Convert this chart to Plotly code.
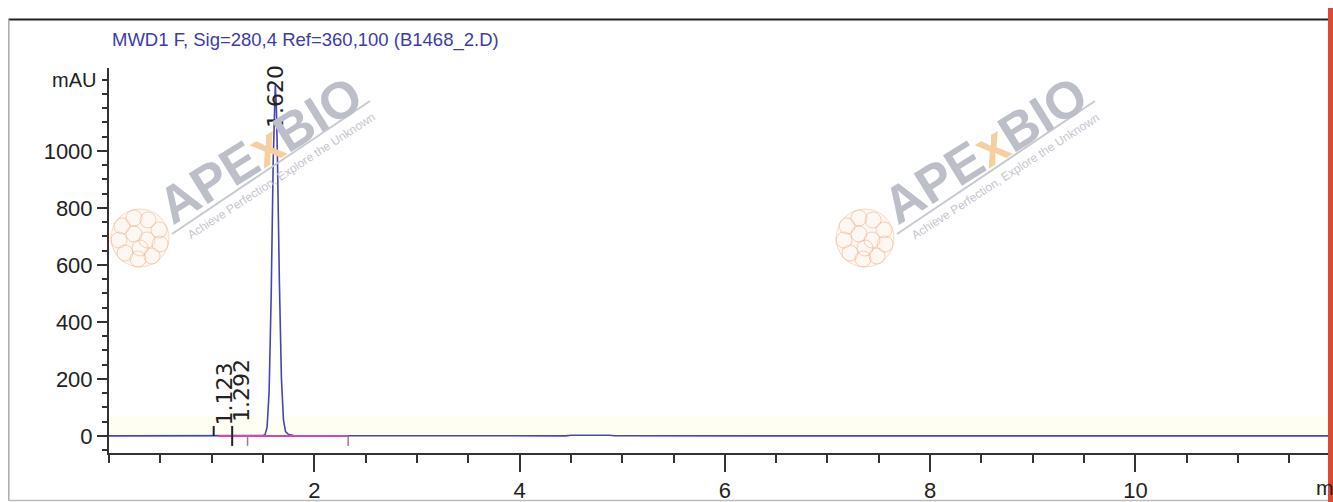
import plotly.graph_objects as go

# ---------------- data ----------------
time_min = [0.0, 1.00, 1.10, 1.30, 1.44, 1.48, 1.50, 1.52, 1.54, 1.56, 1.58, 1.60,
            1.61, 1.62, 1.63, 1.64, 1.66, 1.68, 1.70, 1.72, 1.75, 1.80, 1.90, 2.30,
            4.45, 4.50, 4.60, 4.70, 4.80, 4.88, 4.92, 5.68, 5.71, 5.74, 11.95]
signal_mau = [0.0, 0.0, 0.3, 0.5, 0.6, 0.8, 1.2, 4, 30, 155, 490, 970,
              1165, 1230, 1160, 1000, 540, 200, 55, 15, 5, 1.5, 0.5, 0.2,
              0.2, 2.5, 3, 3, 3, 2.5, 0.3, 0.3, 2, 0.3, 0.0]

peak_times = [1.123, 1.292, 1.620]
peak_labels = ["1.123", "1.292", "1.620"]
peak_label_y = [146, 160, 1190]

baseline_x = [1.07, 2.33]
baseline_y = [0, 0]

mark_dark_x = [1.02, 1.20]
mark_dark_lo = [0, -35]
mark_dark_hi = [35, 35]
mark_grey_x = [1.35, 2.33]
mark_grey_lo = [-35, -35]
mark_grey_hi = [0, 0]

x_tickvals = [2, 4, 6, 8, 10]
y_tickvals = [0, 200, 400, 600, 800, 1000]

title_text = "MWD1 F, Sig=280,4 Ref=360,100 (B1468_2.D)"
y_unit = "mAU"

# ---------------- layout geometry ----------------
OFF = 0                      # body margin is removed by the post script
W, H = 1333, 502
ML, MR, MT, MB = 109, 0, 68, 49
PW, PH = W - ML - MR, H - MT - MB


def px(xr):
    """reference-picture x pixel -> paper coordinate"""
    return (xr - OFF - ML) / PW


def py(yr):
    """reference-picture y pixel -> paper coordinate"""
    return (H - MB - (yr - OFF)) / PH


REG = "Liberation Sans, Arial, sans-serif"
WIDE = "DejaVu Sans, Liberation Sans, Arial, sans-serif"

fig = go.Figure()

# chromatogram
fig.add_trace(go.Scatter(x=time_min, y=signal_mau, mode="lines",
                         line=dict(color="#4646b0", width=1.6),
                         hoverinfo="skip", showlegend=False))
# integration baseline
fig.add_trace(go.Scatter(x=baseline_x, y=baseline_y, mode="lines",
                         line=dict(color="#d24aa6", width=2),
                         hoverinfo="skip", showlegend=False))


def seg(xs, lo, hi):
    X, Y = [], []
    for a, b, c in zip(xs, lo, hi):
        X += [a, a, None]
        Y += [b, c, None]
    return X, Y


mx, my = seg(mark_dark_x, mark_dark_lo, mark_dark_hi)
fig.add_trace(go.Scatter(x=mx, y=my, mode="lines", line=dict(color="#222", width=2),
                         hoverinfo="skip", showlegend=False))
gx, gy = seg(mark_grey_x, mark_grey_lo, mark_grey_hi)
fig.add_trace(go.Scatter(x=gx, y=gy, mode="lines", line=dict(color="#888", width=1.5),
                         hoverinfo="skip", showlegend=False))

annotations = []
for t, lab, yv in zip(peak_times, peak_labels, peak_label_y):
    annotations.append(dict(x=t, y=yv, xref="x", yref="y", text=lab, showarrow=False,
                            textangle=-90, font=dict(family=WIDE, size=22, color="#222"),
                            xanchor="center", yanchor="middle"))

# title
annotations.append(dict(x=px(110), y=py(40), xref="paper", yref="paper", text=title_text,
                        showarrow=False, xanchor="left", yanchor="middle",
                        font=dict(family=REG, size=18.5, color="#3c3ca8")))
# y unit
annotations.append(dict(x=px(98), y=py(80), xref="paper", yref="paper", text=y_unit,
                        showarrow=False, xanchor="right", yanchor="middle",
                        font=dict(family=REG, size=20, color="#222")))
# truncated x unit at right edge
annotations.append(dict(x=px(1314), y=py(487), xref="paper", yref="paper", text="m",
                        showarrow=False, xanchor="left", yanchor="middle",
                        font=dict(family=REG, size=21, color="#222")))

shapes = []
# watermarks (APExBIO)
for dx in [0, 725]:
    annotations.append(dict(x=px(260 + dx), y=py(150), xref="paper", yref="paper",
                            text="<b>APE<span style='color:#f6cf9e'>x</span>BIO</b>",
                            showarrow=False, textangle=-32,
                            font=dict(family=REG, size=52, color="#bcbec8"),
                            xanchor="center", yanchor="middle"))
    annotations.append(dict(x=px(281 + dx), y=py(176), xref="paper", yref="paper",
                            text="Achieve Perfection, Explore the Unknown",
                            showarrow=False, textangle=-33,
                            font=dict(family=REG, size=12, color="#c4c6ce"),
                            xanchor="center", yanchor="middle"))
    shapes.append(dict(type="line", xref="paper", yref="paper",
                       x0=px(172 + dx), y0=py(234), x1=px(370 + dx), y1=py(101),
                       line=dict(color="#c8cad2", width=2)))
    # flower logo
    lcx, lcy = 140 + dx, 238
    shapes.append(dict(type="circle", xref="paper", yref="paper",
                       x0=px(lcx - 29), x1=px(lcx + 29), y0=py(lcy + 29), y1=py(lcy - 29),
                       line=dict(color="rgba(240,180,140,0.45)", width=1),
                       fillcolor="rgba(250,215,190,0.2)"))
    offs = [(-18, -12), (-6, -20), (8, -18), (19, -8), (20, 6), (12, 18), (-2, 21),
            (-15, 15), (-21, 2), (-6, -4), (7, 2), (0, 10)]
    for ox, oy in offs:
        shapes.append(dict(type="circle", xref="paper", yref="paper",
                           x0=px(lcx + ox - 8), x1=px(lcx + ox + 8),
                           y0=py(lcy + oy + 8), y1=py(lcy + oy - 8),
                           line=dict(color="rgba(238,170,125,0.5)", width=1),
                           fillcolor="rgba(0,0,0,0)"))

# pale band near baseline
shapes.append(dict(type="rect", xref="paper", yref="paper", layer="below",
                   x0=0, x1=1, y0=py(434), y1=py(416), line=dict(width=0),
                   fillcolor="#fffef2"))
# frame pieces from the surrounding report
shapes.append(dict(type="line", xref="paper", yref="paper", x0=px(8.5), x1=1.0,
                   y0=py(19.5), y1=py(19.5), line=dict(color="#222", width=2)))
shapes.append(dict(type="line", xref="paper", yref="paper", x0=px(8.8), x1=px(8.8),
                   y0=py(19.5), y1=py(501), line=dict(color="#aaa", width=1.5)))
shapes.append(dict(type="line", xref="paper", yref="paper", x0=px(8.5), x1=1.0,
                   y0=py(500.5), y1=py(500.5), line=dict(color="#bbb", width=1.5)))
shapes.append(dict(type="rect", xref="paper", yref="paper", x0=px(1328), x1=px(1333),
                   y0=py(502), y1=py(8), line=dict(width=0), fillcolor="#e8462c"))

fig.update_layout(
    width=W, height=H,
    margin=dict(l=ML, r=MR, t=MT, b=MB),
    paper_bgcolor="white", plot_bgcolor="rgba(0,0,0,0)",
    annotations=annotations, shapes=shapes,
    xaxis=dict(range=[0, 11.925], showline=True, linecolor="#333", linewidth=2,
               ticks="outside", tickvals=x_tickvals, ticklen=17, tickwidth=2,
               tickcolor="#333", showgrid=False, zeroline=False,
               tickfont=dict(family=REG, size=22, color="#222"),
               minor=dict(tickmode="linear", tick0=0, dtick=0.5, ticks="outside",
                          ticklen=8, tickwidth=1.5, tickcolor="#333", showgrid=False)),
    yaxis=dict(range=[-60, 1291], showline=True, linecolor="#333", linewidth=2,
               ticks="outside", tickvals=y_tickvals, ticklen=10, tickwidth=2,
               tickcolor="#333", showgrid=False, zeroline=False,
               tickfont=dict(family=REG, size=22, color="#222"),
               minor=dict(tickmode="linear", tick0=0, dtick=50, ticks="outside",
                          ticklen=5, tickwidth=1.5, tickcolor="#333", showgrid=False)),
)

fig.write_html(
    "out.html",
    config={"displayModeBar": False},
    post_script="document.body.style.margin='0';document.body.style.overflow='hidden';"
                "document.documentElement.style.overflow='hidden';",
)
